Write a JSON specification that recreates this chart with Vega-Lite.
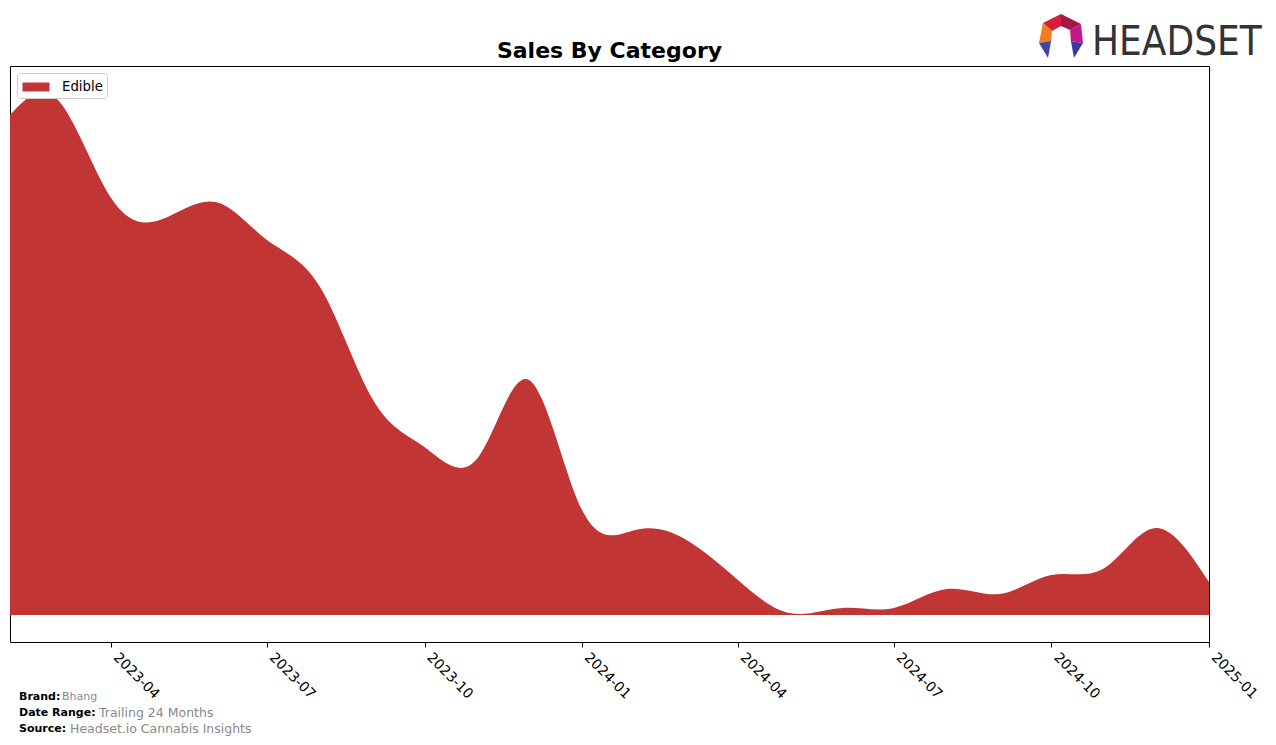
{
  "$schema": "https://vega.github.io/schema/vega-lite/v6.json",
  "width": 1199,
  "height": 576,
  "autosize": {"type": "none"},
  "padding": {"left": 10, "top": 66, "right": 67, "bottom": 103},
  "background": "white",
  "config": {
    "view": {"stroke": "black", "strokeWidth": 1},
    "font": "DejaVu Sans"
  },
  "layer": [
    {
      "data": {
        "values": [
          {"month": "2023-02-01", "sales": 500, "category": "Edible"},
          {"month": "2023-03-01", "sales": 515, "category": "Edible"},
          {"month": "2023-04-01", "sales": 417, "category": "Edible"},
          {"month": "2023-05-01", "sales": 396, "category": "Edible"},
          {"month": "2023-06-01", "sales": 413, "category": "Edible"},
          {"month": "2023-07-01", "sales": 375, "category": "Edible"},
          {"month": "2023-08-01", "sales": 328, "category": "Edible"},
          {"month": "2023-09-01", "sales": 215, "category": "Edible"},
          {"month": "2023-10-01", "sales": 168, "category": "Edible"},
          {"month": "2023-11-01", "sales": 157, "category": "Edible"},
          {"month": "2023-12-01", "sales": 235, "category": "Edible"},
          {"month": "2024-01-01", "sales": 105, "category": "Edible"},
          {"month": "2024-02-01", "sales": 85, "category": "Edible"},
          {"month": "2024-03-01", "sales": 76, "category": "Edible"},
          {"month": "2024-04-01", "sales": 35, "category": "Edible"},
          {"month": "2024-05-01", "sales": 2, "category": "Edible"},
          {"month": "2024-06-01", "sales": 7, "category": "Edible"},
          {"month": "2024-07-01", "sales": 7, "category": "Edible"},
          {"month": "2024-08-01", "sales": 26, "category": "Edible"},
          {"month": "2024-09-01", "sales": 21, "category": "Edible"},
          {"month": "2024-10-01", "sales": 40, "category": "Edible"},
          {"month": "2024-11-01", "sales": 47, "category": "Edible"},
          {"month": "2024-12-01", "sales": 87, "category": "Edible"},
          {"month": "2025-01-01", "sales": 33, "category": "Edible"}
        ]
      },
      "mark": {"type": "area", "interpolate": "natural", "clip": true},
      "encoding": {
        "x": {
          "field": "month",
          "type": "temporal",
          "scale": {
            "type": "utc",
            "domain": [
              {"year": 2023, "month": 2, "date": 1, "utc": true},
              {"year": 2025, "month": 1, "date": 1, "utc": true}
            ]
          },
          "axis": {
            "title": null,
            "values": [
              {"year": 2023, "month": 4, "date": 1, "utc": true},
              {"year": 2023, "month": 7, "date": 1, "utc": true},
              {"year": 2023, "month": 10, "date": 1, "utc": true},
              {"year": 2024, "month": 1, "date": 1, "utc": true},
              {"year": 2024, "month": 4, "date": 1, "utc": true},
              {"year": 2024, "month": 7, "date": 1, "utc": true},
              {"year": 2024, "month": 10, "date": 1, "utc": true},
              {"year": 2025, "month": 1, "date": 1, "utc": true}
            ],
            "labelExpr": "utcFormat(datum.value, '%Y-%m')",
            "labelAngle": 45,
            "labelAlign": "left",
            "labelBaseline": "top",
            "labelFontSize": 14,
            "labelFont": "DejaVu Sans",
            "labelColor": "black",
            "labelPadding": 3,
            "labelOffset": 9,
            "labelOverlap": false,
            "labelBound": false,
            "labelFlush": false,
            "tickColor": "black",
            "tickSize": 5,
            "domain": false,
            "grid": false
          }
        },
        "y": {
          "field": "sales",
          "type": "quantitative",
          "scale": {"domain": [-27, 549], "nice": false, "zero": false},
          "axis": null
        },
        "y2": {"datum": 0},
        "color": {
          "field": "category",
          "type": "nominal",
          "scale": {"domain": ["Edible"], "range": ["#c13534"]},
          "legend": {
            "title": null,
            "orient": "top-left",
            "offset": 7,
            "padding": 4,
            "strokeColor": "#cccccc",
            "fillColor": "white",
            "cornerRadius": 3,
            "symbolType": "M-1.5,-0.5H1.5V0.5H-1.5Z",
            "symbolSize": 324,
            "symbolOpacity": 1,
            "symbolOffset": 5,
            "labelFontSize": 13.3,
            "labelFont": "DejaVu Sans",
            "labelColor": "black",
            "labelOffset": 16
          }
        }
      }
    },
    {
      "data": {"values": [{"t": "Sales By Category"}]},
      "mark": {"type": "text", "x": 599.5, "y": -8, "align": "center", "baseline": "alphabetic", "fontWeight": "bold", "fontSize": 22, "font": "DejaVu Sans", "color": "black"},
      "encoding": {"text": {"field": "t"}}
    },
    {
      "data": {"values": [{"t": "Brand:"}]},
      "mark": {"type": "text", "x": 9, "y": 631, "align": "left", "baseline": "middle", "fontWeight": "bold", "fontSize": 11, "font": "DejaVu Sans", "color": "black"},
      "encoding": {"text": {"field": "t"}}
    },
    {
      "data": {"values": [{"t": "Bhang"}]},
      "mark": {"type": "text", "x": 52, "y": 631, "align": "left", "baseline": "middle", "fontSize": 11, "font": "DejaVu Sans", "color": "#888888"},
      "encoding": {"text": {"field": "t"}}
    },
    {
      "data": {"values": [{"t": "Date Range:"}]},
      "mark": {"type": "text", "x": 9, "y": 647, "align": "left", "baseline": "middle", "fontWeight": "bold", "fontSize": 11, "font": "DejaVu Sans", "color": "black"},
      "encoding": {"text": {"field": "t"}}
    },
    {
      "data": {"values": [{"t": "Trailing 24 Months"}]},
      "mark": {"type": "text", "x": 89, "y": 647, "align": "left", "baseline": "middle", "fontSize": 12.5, "font": "DejaVu Sans", "color": "#888888"},
      "encoding": {"text": {"field": "t"}}
    },
    {
      "data": {"values": [{"t": "Source:"}]},
      "mark": {"type": "text", "x": 9, "y": 663, "align": "left", "baseline": "middle", "fontWeight": "bold", "fontSize": 11, "font": "DejaVu Sans", "color": "black"},
      "encoding": {"text": {"field": "t"}}
    },
    {
      "data": {"values": [{"t": "Headset.io Cannabis Insights"}]},
      "mark": {"type": "text", "x": 60, "y": 663, "align": "left", "baseline": "middle", "fontSize": 12.5, "font": "DejaVu Sans", "color": "#888888"},
      "encoding": {"text": {"field": "t"}}
    },
    {
      "data": {"values": [{"t": "HEADSET"}]},
      "mark": {"type": "text", "x": 1082, "y": -11, "align": "left", "baseline": "alphabetic", "fontSize": 40, "font": "DejaVu Sans Condensed, Roboto Condensed, Roboto", "color": "#333333"},
      "encoding": {"text": {"field": "t"}}
    },
    {
      "data": {"values": [{"p": "logo"}]},
      "mark": {"type": "point", "x": 1051, "y": -31, "size": 1936, "filled": true, "opacity": 1, "color": "#d91e3c", "shape": "M-0.82,-0.55L0,-0.95L0,-0.41L-0.41,-0.18Z"},
      "encoding": {}
    },
    {
      "data": {"values": [{"p": "logo"}]},
      "mark": {"type": "point", "x": 1051, "y": -31, "size": 1936, "filled": true, "opacity": 1, "color": "#a3174a", "shape": "M0,-0.95L0.91,-0.5L0.41,-0.23L0,-0.41Z"},
      "encoding": {}
    },
    {
      "data": {"values": [{"p": "logo"}]},
      "mark": {"type": "point", "x": 1051, "y": -31, "size": 1936, "filled": true, "opacity": 1, "color": "#c2188a", "shape": "M0.91,-0.5L1,0.36L0.45,0.27L0.41,-0.23Z"},
      "encoding": {}
    },
    {
      "data": {"values": [{"p": "logo"}]},
      "mark": {"type": "point", "x": 1051, "y": -31, "size": 1936, "filled": true, "opacity": 1, "color": "#f47c20", "shape": "M-0.82,-0.55L-0.41,-0.18L-0.45,0.27L-1,0.36Z"},
      "encoding": {}
    },
    {
      "data": {"values": [{"p": "logo"}]},
      "mark": {"type": "point", "x": 1051, "y": -31, "size": 1936, "filled": true, "opacity": 1, "color": "#4143a8", "shape": "M-1,0.36L-0.45,0.27L-0.59,1.05Z"},
      "encoding": {}
    },
    {
      "data": {"values": [{"p": "logo"}]},
      "mark": {"type": "point", "x": 1051, "y": -31, "size": 1936, "filled": true, "opacity": 1, "color": "#3a3c9c", "shape": "M1,0.36L0.45,0.27L0.59,1.05Z"},
      "encoding": {}
    }
  ]
}
